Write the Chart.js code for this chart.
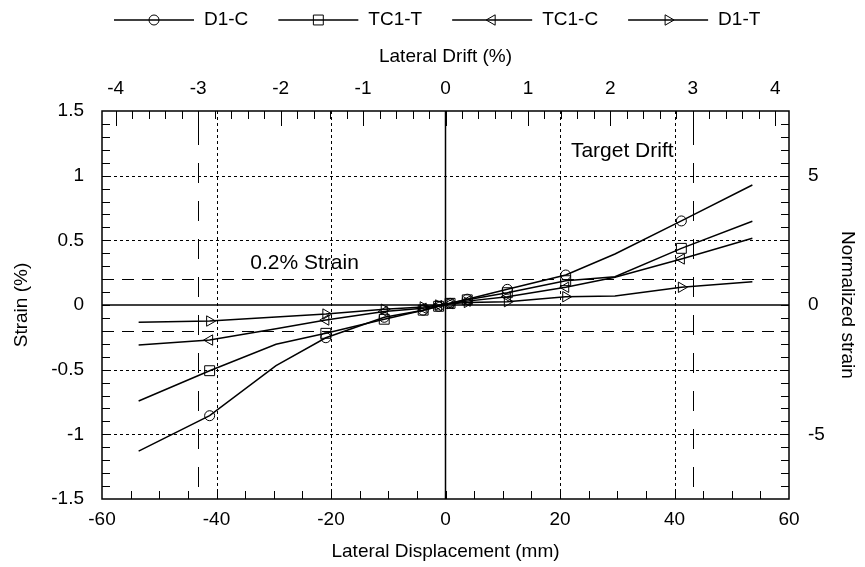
<!DOCTYPE html>
<html>
<head>
<meta charset="utf-8">
<script src="https://cdn.jsdelivr.net/npm/chart.js@4.4.0/dist/chart.umd.min.js"></script>
<style>
  html, body { margin: 0; padding: 0; background: #fff; }
  #wrap { width: 865px; height: 567px; }
</style>
</head>
<body>
<div id="wrap"><canvas id="strainChart" width="865" height="567"></canvas></div>
<script>
// lateral displacement (mm) of each recorded step
const displacement = [-53.6, -41.2, -29.6, -20.9, -10.7, -3.9, -1.2, 0.8, 3.8, 10.8, 21.0, 29.6, 41.2, 53.6];
// steps that carry a marker in the figure (1 = marker)
const markerShown = [0, 1, 0, 1, 1, 1, 1, 1, 1, 1, 1, 0, 1, 0];

// strain (%) per gauge
const seriesNames = ['D1-C', 'TC1-T', 'TC1-C', 'D1-T'];
const strainD1C  = [-1.13, -0.856, -0.469, -0.253, -0.095, -0.04, -0.01, 0.013, 0.045, 0.121, 0.232, 0.394, 0.65, 0.928];
const strainTC1T = [-0.742, -0.508, -0.304, -0.219, -0.11, -0.04, -0.01, 0.013, 0.04, 0.095, 0.188, 0.219, 0.438, 0.647];
const strainTC1C = [-0.309, -0.271, -0.183, -0.116, -0.05, -0.025, -0.005, 0.01, 0.03, 0.064, 0.137, 0.214, 0.356, 0.516];
const strainD1T  = [-0.134, -0.124, -0.093, -0.07, -0.033, -0.015, 0, 0.01, 0.02, 0.026, 0.064, 0.07, 0.137, 0.18];

// axis ticks
const dispTicks = [-60, -40, -20, 0, 20, 40, 60];
const strainTicks = [-1.5, -1, -0.5, 0, 0.5, 1, 1.5];
const driftTicks = [-4, -3, -2, -1, 0, 1, 2, 3, 4];
const normTicks = [-5, 0, 5];

const mmPerDrift = 14.4;   // 1% drift in mm
const yieldStrain = 0.2;   // % strain -> normalized strain 1
const targetDrift = 3;     // %

const FONT = '"Liberation Sans", Arial, sans-serif';
const markerStyles = [
  { pointStyle: 'circle', rotation: 0, radius: 5 },
  { pointStyle: 'rect', rotation: 0, radius: 7 },
  { pointStyle: 'triangle', rotation: -90, radius: 6 },
  { pointStyle: 'triangle', rotation: 90, radius: 6 }
];
const allStrain = [strainD1C, strainTC1T, strainTC1C, strainD1T];

function drawMarker(ctx, st, x, y) {
  ctx.save();
  ctx.strokeStyle = '#000';
  ctx.fillStyle = 'rgba(0,0,0,0)';
  ctx.lineWidth = 1;
  Chart.helpers.drawPoint(ctx, { pointStyle: st.pointStyle, rotation: st.rotation, radius: st.radius, borderWidth: 1 }, x, y);
  ctx.restore();
}

// === FRAME, GRID, TICKS, REFERENCE LINES ===
const framePlugin = {
  id: 'frame',
  beforeDatasetsDraw(chart) {
    const { ctx, chartArea: a, scales } = chart;
    const sx = scales.x, sy = scales.y, sx2 = scales.x2, sy2 = scales.y2;
    ctx.save();
    ctx.strokeStyle = '#000';

    // dotted grid
    ctx.lineWidth = 1;
    ctx.setLineDash([3, 3]);
    dispTicks.forEach(v => {
      if (v === 0 || Math.abs(v) === 60) return;
      const px = Math.round(sx.getPixelForValue(v)) + 0.5;
      ctx.beginPath(); ctx.moveTo(px, a.top); ctx.lineTo(px, a.bottom); ctx.stroke();
    });
    strainTicks.forEach(v => {
      if (v === 0 || Math.abs(v) === 1.5) return;
      const py = Math.round(sy.getPixelForValue(v)) + 0.5;
      ctx.beginPath(); ctx.moveTo(a.left, py); ctx.lineTo(a.right, py); ctx.stroke();
    });

    // 0.2% strain lines
    ctx.setLineDash([12, 8]);
    [yieldStrain, -yieldStrain].forEach(v => {
      const py = Math.round(sy.getPixelForValue(v)) + 0.5;
      ctx.beginPath(); ctx.moveTo(a.left, py); ctx.lineTo(a.right, py); ctx.stroke();
    });

    // target drift lines
    ctx.setLineDash([20, 18]);
    [targetDrift, -targetDrift].forEach(v => {
      const px = Math.round(sx2.getPixelForValue(v)) + 0.5;
      ctx.beginPath(); ctx.moveTo(px, a.top + 14); ctx.lineTo(px, a.bottom); ctx.stroke();
    });

    // zero lines
    ctx.setLineDash([]);
    ctx.lineWidth = 1.5;
    const x0 = sx.getPixelForValue(0), y0 = sy.getPixelForValue(0);
    ctx.beginPath(); ctx.moveTo(x0, a.top); ctx.lineTo(x0, a.bottom); ctx.stroke();
    ctx.beginPath(); ctx.moveTo(a.left, y0); ctx.lineTo(a.right, y0); ctx.stroke();

    // inward ticks
    ctx.lineWidth = 1;
    for (let v = -55; v <= 55; v += 5) {
      const px = Math.round(sx.getPixelForValue(v)) + 0.5;
      ctx.beginPath(); ctx.moveTo(px, a.bottom); ctx.lineTo(px, a.bottom - 8); ctx.stroke();
    }
    for (let k = -20; k <= 20; k++) {
      const v = k * 0.2;
      const px = Math.round(sx2.getPixelForValue(v)) + 0.5;
      if (px <= a.left || px >= a.right) continue;
      const len = k % 5 === 0 ? 15 : 8;
      ctx.beginPath(); ctx.moveTo(px, a.top); ctx.lineTo(px, a.top + len); ctx.stroke();
    }
    for (let k = -14; k <= 14; k++) {
      const py = Math.round(sy.getPixelForValue(k / 10)) + 0.5;
      ctx.beginPath(); ctx.moveTo(a.left, py); ctx.lineTo(a.left + 8, py); ctx.stroke();
    }
    for (let k = -14; k <= 14; k++) {
      const py = Math.round(sy2.getPixelForValue(k / 2)) + 0.5;
      ctx.beginPath(); ctx.moveTo(a.right, py); ctx.lineTo(a.right - 8, py); ctx.stroke();
    }

    // frame
    ctx.lineWidth = 1.5;
    ctx.strokeRect(a.left, a.top, a.right - a.left, a.bottom - a.top);
    ctx.restore();
  },
  afterDraw(chart) {
    const { ctx, scales } = chart;
    ctx.save();
    ctx.fillStyle = '#000';
    ctx.textBaseline = 'middle';
    ctx.textAlign = 'left';
    // annotations
    ctx.font = '21px ' + FONT;
    ctx.fillText('0.2% Strain', scales.x.getPixelForValue(-34.1), scales.y.getPixelForValue(0.32));
    ctx.fillText('Target Drift', scales.x.getPixelForValue(21.9), scales.y.getPixelForValue(1.19));

    // legend: line + marker + label
    ctx.font = '19px ' + FONT;
    let lx = 114;
    const ly = 20;
    seriesNames.forEach((name, i) => {
      ctx.strokeStyle = '#000';
      ctx.lineWidth = 1.5;
      ctx.beginPath(); ctx.moveTo(lx, ly); ctx.lineTo(lx + 80, ly); ctx.stroke();
      drawMarker(ctx, markerStyles[i], lx + 40, ly);
      ctx.fillText(name, lx + 90, ly);
      lx += 90 + ctx.measureText(name).width + 30;
    });
    ctx.restore();
  }
};

const datasets = seriesNames.map((name, i) => ({
  label: name,
  data: displacement.map((d, j) => ({ x: d, y: allStrain[i][j] })),
  borderColor: '#000',
  borderWidth: 1.5,
  pointStyle: markerStyles[i].pointStyle,
  pointRotation: markerStyles[i].rotation,
  pointRadius: markerShown.map(m => m ? markerStyles[i].radius : 0),
  pointBorderWidth: 1,
  pointBorderColor: '#000',
  pointBackgroundColor: 'rgba(0,0,0,0)',
  tension: 0,
  fill: false,
  xAxisID: 'x',
  yAxisID: 'y'
}));

const tickFont = { family: FONT, size: 19 };
const fmt = v => String(+(+v).toFixed(2));

new Chart(document.getElementById('strainChart').getContext('2d'), {
  type: 'line',
  data: { datasets },
  plugins: [framePlugin],
  options: {
    responsive: false,
    animation: false,
    devicePixelRatio: 1,
    layout: { padding: 0 },
    plugins: { legend: { display: false }, tooltip: { enabled: false } },
    scales: {
      x: {
        type: 'linear', position: 'bottom', min: -60, max: 60,
        afterBuildTicks: s => { s.ticks = dispTicks.map(v => ({ value: v })); },
        afterFit: s => { s.height = 68; },
        ticks: { color: '#000', font: tickFont, padding: 1, maxRotation: 0, callback: fmt },
        grid: { display: false },
        border: { display: false },
        title: { display: true, text: 'Lateral Displacement (mm)', color: '#000', font: tickFont, padding: { top: 0, bottom: 4 } }
      },
      x2: {
        type: 'linear', position: 'top', min: -60 / mmPerDrift, max: 60 / mmPerDrift,
        afterBuildTicks: s => { s.ticks = driftTicks.map(v => ({ value: v })); },
        afterFit: s => { s.height = 111; },
        ticks: { color: '#000', font: tickFont, padding: 3, maxRotation: 0, callback: fmt },
        grid: { display: false },
        border: { display: false },
        title: { display: true, text: 'Lateral Drift (%)', color: '#000', font: tickFont, padding: { top: 45, bottom: 0 } }
      },
      y: {
        type: 'linear', position: 'left', min: -1.5, max: 1.5,
        afterBuildTicks: s => { s.ticks = strainTicks.map(v => ({ value: v })); },
        afterFit: s => { s.width = 102; },
        ticks: { color: '#000', font: tickFont, padding: 10, callback: fmt },
        grid: { display: false },
        border: { display: false },
        title: { display: true, text: 'Strain (%)', color: '#000', font: tickFont, padding: { top: 10, bottom: 0 } }
      },
      y2: {
        type: 'linear', position: 'right', min: -1.5 / yieldStrain, max: 1.5 / yieldStrain,
        afterBuildTicks: s => { s.ticks = normTicks.map(v => ({ value: v })); },
        afterFit: s => { s.width = 76; },
        ticks: { color: '#000', font: tickFont, padding: 11, callback: fmt },
        grid: { display: false },
        border: { display: false },
        title: { display: true, text: 'Normalized strain', color: '#000', font: tickFont, padding: { top: 6, bottom: 0 } }
      }
    }
  }
});
</script>
</body>
</html>
